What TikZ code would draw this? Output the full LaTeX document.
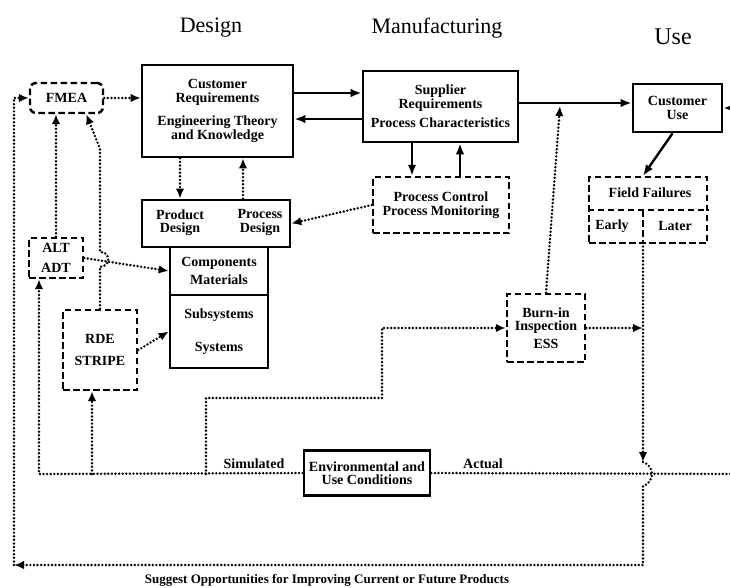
\documentclass[tikz,border=0pt]{standalone}
\usepackage{fontspec}
\setmainfont{Liberation Serif}
\usetikzlibrary{arrows.meta}

\begin{document}
\begin{tikzpicture}
[
x=1pt,y=-1pt,
txt/.style={font=\fontsize{14}{13.5}\selectfont\bfseries,align=center,inner sep=0pt},
box/.style 2 args={draw,line width=2.6pt,minimum width=#1,minimum height=#2,inner sep=0pt,txt},
dbox/.style 2 args={box={#1}{#2},line width=2.4pt,dash pattern=on 6.5pt off 3.5pt},
dashline/.style={line width=2.4pt,dash pattern=on 6.5pt off 3.5pt},
solidarrow/.style={line width=2.4pt,-{Latex[length=11pt,width=8.5pt]}},
dotline/.style={line width=2.7pt,line cap=round,dash pattern=on 0pt off 3.6pt},
dotarrow/.style={dotline,-{Latex[length=10pt,width=8.5pt]}},
title/.style={font=\fontsize{22}{22}\selectfont},
]
\useasboundingbox (0,0) rectangle (730,588);

%Place the nodes
\node[title] (tdesign) at (211,28) {Design};
\node[title] (tmanuf) at (437,28) {Manufacturing};
\node[title,font=\fontsize{24}{24}\selectfont] (tuse) at (673,37) {Use};

\node[dbox={73pt}{30pt},rounded corners=6pt] (fmea) at (66.5,98) {FMEA};
\node[box={151pt}{92pt}] (custreq) at (217.5,111) {Customer\\Requirements\\[10pt]Engineering Theory\\and Knowledge};
\node[box={148pt}{47pt}] (design) at (216,223.5) {};
\node[txt] (proddes) at (180,222.5) {Product\\Design};
\node[txt] (procdes) at (260,222.5) {Process\\Design};
\node[box={98pt}{48pt}] (comp) at (219,271) {Components\\[5pt]Materials};
\node[box={98pt}{73pt}] (subsys) at (219,331.5) {Subsystems\\[19pt]Systems};
\node[box={155pt}{71pt}] (supplier) at (440.5,106.5) {Supplier\\Requirements\\[6pt]Process Characteristics};
\node[dbox={136pt}{56pt}] (proccon) at (441,205) {Process Control\\Process Monitoring};
\node[box={89pt}{48pt}] (custuse) at (677.5,108) {Customer\\Use};
\node[dbox={118pt}{66pt}] (fieldfail) at (648,210) {};
\node[txt] (ffhead) at (650,193) {Field Failures};
\node[txt] (early) at (612,226) {Early};
\node[txt] (later) at (675,226) {Later};
\node[dbox={54pt}{40pt}] (altadt) at (56,258) {ALT\\[6pt]ADT};
\node[dbox={74pt}{80pt}] (rde) at (100,350) {RDE\\[8pt]STRIPE};
\node[dbox={78pt}{68pt}] (burnin) at (546,328) {Burn-in\\Inspection\\[4pt]ESS};
\node[box={126pt}{45pt}] (env) at (367,473) {Environmental and\\Use Conditions};
\node[txt] (simlabel) at (254,464) {Simulated};
\node[txt] (actlabel) at (483,464) {Actual};
\node[txt,font=\fontsize{13}{13}\selectfont\bfseries] (suggest) at (327,580) {Suggest Opportunities for Improving Current or Future Products};

%Rows, columns and loose ends
\coordinate (rowa) at (0,93);
\coordinate (rowb) at (0,119);
\coordinate (rowc) at (0,103);
\coordinate (colb) at (243,0);
\coordinate (colc) at (412,0);
\coordinate (cold) at (460,0);
\coordinate (leftcol) at (14,565);
\coordinate (simleft) at (39,474);
\coordinate (rdefoot) at (92,474);
\coordinate (stepfoot) at (206,474);
\coordinate (stepmid) at (382,398);
\coordinate (ffsplit) at (643,243);
\coordinate (hoptop) at (643,462);
\coordinate (hopbot) at (643,486);
\coordinate (ffcorner) at (643,565);
\coordinate (actualend) at (745,474);
\coordinate (usein) at (745,108);
\coordinate (bitip) at (560,106);

%Draw the connections
\draw[dashline] (fieldfail.west) -- (fieldfail.east);
\draw[dashline] (ffsplit |- fieldfail.center) -- (ffsplit);
\draw[dotarrow] (fmea.east) -- (fmea.east -| custreq.west);
\draw[solidarrow] (custreq.east |- rowa) -- (supplier.west |- rowa);
\draw[solidarrow] (supplier.west |- rowb) -- (custreq.east |- rowb);
\draw[solidarrow] (supplier.east |- rowc) -- (custuse.west |- rowc);
\draw[solidarrow] (usein) -- (custuse.east);
\draw[dotarrow] (custreq.south -| proddes) -- (design.north -| proddes);
\draw[dotarrow] (design.north -| colb) -- (custreq.south -| colb);
\draw[solidarrow] (supplier.south -| colc) -- (proccon.north -| colc);
\draw[solidarrow] (proccon.north -| cold) -- (supplier.south -| cold);
\draw[dotarrow] (proccon.west) -- (design.east);
\draw[solidarrow] ([xshift=-5pt]custuse.south) -- (ffsplit |- fieldfail.north);
\draw[dotarrow] (altadt.north) -- (altadt.north |- fmea.south);
\draw[dotarrow] (altadt.east) -- (comp.west);
\draw[dotarrow] (rde.north) -- ++(0,-42) .. controls +(11,0) and +(11,0) .. ++(0,-15) -- ++(0,-103) -- ([xshift=-18pt]fmea.south east);
\draw[dotarrow] (rde.east) -- (subsys.west);
\draw[dotarrow] (rdefoot) -- (rdefoot |- rde.south);
\draw[dotarrow] (env.west) -- (simleft) -- (simleft |- altadt.south);
\draw[dotline] (env.east) -- (actualend);
\draw[dotarrow] (stepfoot) |- (stepmid) |- (burnin.west);
\draw[dotarrow] (burnin.east) -- (burnin.east -| ffsplit);
\draw[dotarrow] (burnin.north) -- (bitip);
\draw[dotarrow] (ffsplit) -- (hoptop);
\draw[dotarrow] (hoptop) .. controls +(12,4) and +(12,-4) .. (hopbot) -- (ffcorner) -- (ffcorner -| leftcol);
\draw[dotarrow] (leftcol) -- (leftcol |- fmea.west) -- (fmea.west);
\end{tikzpicture}
\end{document}
